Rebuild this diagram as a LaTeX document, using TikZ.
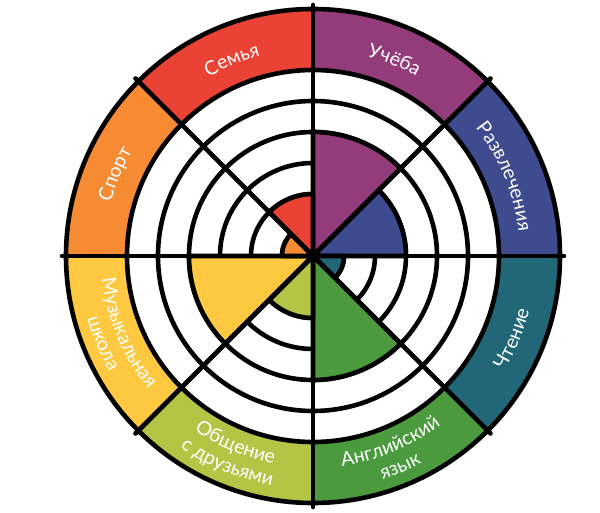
\documentclass[tikz,border=0pt]{standalone}
\usepackage{fontspec}
\newfontfamily\lblfamily{Lato}
\newcommand\lblf{\lblfamily\fontsize{19.5}{19.5}\selectfont}
\usetikzlibrary{calc,decorations.text}
\definecolor{cSemya}{HTML}{EA4335}
\definecolor{cUcheba}{HTML}{933C79}
\definecolor{cRazv}{HTML}{3E4B8F}
\definecolor{cCht}{HTML}{216777}
\definecolor{cAngl}{HTML}{4B9A3E}
\definecolor{cObsh}{HTML}{B4C545}
\definecolor{cMuz}{HTML}{FEC840}
\definecolor{cSport}{HTML}{F68B33}
\tikzset{
  inkline/.style={draw=black, line width=4.6pt, line join=round},
  labeldec/.style={decorate, decoration={text along path, text align=center, text color=white}}
}
\begin{document}
\begin{tikzpicture}[x=1pt,y=1pt]
\useasboundingbox (0,0) rectangle (600,512);
\fill[white] (0,0) rectangle (600,512);
\coordinate (C) at (313,256);
% outer coloured ring
\foreach \a/\col in {90/cUcheba, 45/cRazv, 0/cCht, -45/cAngl, -90/cObsh, -135/cMuz, 180/cSport, 135/cSemya}
  \fill[\col] ($(C)+(\a:186)$) arc[start angle=\a, end angle=\a-45, radius=186]
     -- ($(C)+(\a-45:247)$) arc[start angle=\a-45, end angle=\a, radius=247] -- cycle;
% level circles
\foreach \k in {1,...,5}
  \draw[inkline] (C) circle[radius=31*\k];
% filled levels
\foreach \a/\k/\col in {90/4/cUcheba, 45/3/cRazv, 0/1/cCht, -45/4/cAngl, -90/2/cObsh, -135/4/cMuz, 180/1/cSport, 135/2/cSemya}
  \filldraw[inkline, fill=\col] (C) -- ($(C)+(\a:31*\k)$) arc[start angle=\a, end angle=\a-45, radius=31*\k] -- cycle;
% ring borders
\draw[inkline] (C) circle[radius=186];
\draw[inkline] (C) circle[radius=247];
% spokes
\foreach \a in {0,45,90,135}
  \draw[inkline, line cap=round] ($(C)+(\a:251)$) -- ($(C)+(\a+180:251)$);
% labels, upper half (clockwise)
\path[labeldec, decoration={text={|\lblf|Семья}}] ($(C)+(152.5:207)$) arc[start angle=152.5, end angle=72.5, radius=207];
\path[labeldec, decoration={text={|\lblf|Учёба}}] ($(C)+(107.5:207)$) arc[start angle=107.5, end angle=27.5, radius=207];
\path[labeldec, decoration={text={|\lblf|Развлечения}}] ($(C)+(62.5:207)$) arc[start angle=62.5, end angle=-17.5, radius=207];
\path[labeldec, decoration={text={|\lblf|Спорт}}] ($(C)+(197.5:209)$) arc[start angle=197.5, end angle=117.5, radius=209];
% labels, lower half (counterclockwise)
\path[labeldec, decoration={text={|\lblf|Чтение}}] ($(C)+(-62.5:223)$) arc[start angle=-62.5, end angle=17.5, radius=223];
\path[labeldec, decoration={text={|\lblf|Английский}}] ($(C)+(-107.5:212)$) arc[start angle=-107.5, end angle=-27.5, radius=212];
\path[labeldec, decoration={text={|\lblf|язык}}] ($(C)+(-107.5:234)$) arc[start angle=-107.5, end angle=-27.5, radius=234];
\path[labeldec, decoration={text={|\lblf|Общение}}] ($(C)+(-152.5:211)$) arc[start angle=-152.5, end angle=-72.5, radius=211];
\path[labeldec, decoration={text={|\lblf|с друзьями}}] ($(C)+(-152.5:233)$) arc[start angle=-152.5, end angle=-72.5, radius=233];
\path[labeldec, decoration={text={|\lblf|Музыкальная}}] ($(C)+(-197.5:212)$) arc[start angle=-197.5, end angle=-117.5, radius=212];
\path[labeldec, decoration={text={|\lblf|школа}}] ($(C)+(-197.5:234)$) arc[start angle=-197.5, end angle=-117.5, radius=234];
\end{tikzpicture}
\end{document}
